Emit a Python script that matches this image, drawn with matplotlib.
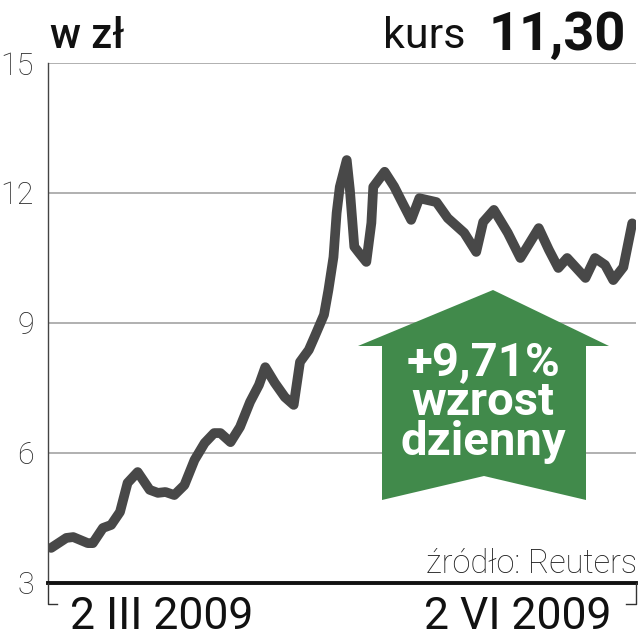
import matplotlib
matplotlib.use('Agg')
import matplotlib.pyplot as plt
from matplotlib.patches import Polygon
from matplotlib.lines import Line2D

# ---- data ----
days = [0, 2.4, 3.5, 5.8, 6.6, 8.2, 9.5, 10.9, 12.1, 13.7, 15.6, 16.9, 18.1, 19.5,
        21.1, 22.7, 24.3, 25.8, 26.8, 28.4, 29.9, 31.5, 32.9, 33.9, 35.4, 37.0,
        38.4, 39.4, 40.8, 41.7, 43.2, 43.9, 44.7, 45.2, 45.7, 46.8, 47.3, 48.0,
        48.8, 49.9, 50.7, 51.0, 52.8, 54.3, 55.8, 57.0, 58.3, 61.0, 62.8, 65.4,
        67.3, 68.4, 70.1, 72.3, 74.3, 77.2, 78.8, 80.3, 81.7, 84.6, 86.1, 87.7,
        89.0, 90.6, 92.0]
prices = [3.81, 4.04, 4.06, 3.92, 3.92, 4.27, 4.34, 4.64, 5.31, 5.56, 5.15, 5.08,
          5.10, 5.03, 5.26, 5.84, 6.23, 6.46, 6.46, 6.25, 6.60, 7.18, 7.57, 7.98,
          7.62, 7.29, 7.11, 8.10, 8.38, 8.68, 9.19, 9.76, 10.52, 11.54, 12.14,
          12.76, 12.07, 10.76, 10.61, 10.41, 11.31, 12.14, 12.49, 12.15, 11.72,
          11.38, 11.88, 11.79, 11.42, 11.08, 10.64, 11.33, 11.61, 11.08, 10.50,
          11.19, 10.69, 10.27, 10.50, 10.04, 10.50, 10.34, 9.99, 10.29, 11.30]
y_ticks = [3, 6, 9, 12, 15]
y_tick_labels = ["3", "6", "9", "12", "15"]
date_labels = ["2 III 2009", "2 VI 2009"]
unit_label = "w zł"
price_label = "kurs"
price_value = "11,30"
change_lines = ["+9,71%", "wzrost", "dzienny"]
source = "źródło: Reuters"

plt.rcParams['font.family'] = ['Roboto', 'Liberation Sans', 'DejaVu Sans']

W = H = 640
fig = plt.figure(figsize=(6.4, 6.4), dpi=100)
fig.patch.set_facecolor('white')

def fx(x):
    return x / W

def fy(y):
    return 1 - y / H

L, R, T, B = 48, 636, 63, 583
ax = fig.add_axes([fx(L), fy(B), (R - L) / W, (B - T) / H])
ax.set_xlim(-0.5, 92.6)
ax.set_ylim(3, 15)

ax.set_yticks(y_ticks)
ax.set_yticklabels(y_tick_labels)
ax.set_xticks([])
ax.tick_params(axis='y', length=0, pad=10, labelsize=22, colors='#2a2a2a')
for lab in ax.get_yticklabels():
    lab.set_fontweight('light')
ax.yaxis.grid(True, color='#a3a3a3', linewidth=1.2)
ax.set_axisbelow(True)

for s in ['top', 'right']:
    ax.spines[s].set_visible(False)
ax.spines['left'].set_color('#444444')
ax.spines['left'].set_linewidth(1.0)
ax.spines['bottom'].set_color('#111111')
ax.spines['bottom'].set_linewidth(2.8)
ax.spines['bottom'].set_zorder(5)

ax.plot(days, prices, color='#484848', linewidth=7,
        solid_joinstyle='round', solid_capstyle='round', zorder=3)

# ---- green arrow ----
arrow_px = [(493, 290), (609, 346), (586, 346), (586, 500), (484, 476),
            (382, 500), (382, 346), (358, 346)]
arrow = Polygon([(fx(x), fy(y)) for x, y in arrow_px], closed=True,
                transform=fig.transFigure, facecolor='#418a4b',
                edgecolor='none', zorder=4)
fig.patches.append(arrow)

fig.text(fx(483), fy(402), "\n".join(change_lines),
         ha='center', va='center', multialignment='center', linespacing=0.88,
         color='white', fontsize=34, fontweight='bold', zorder=6)

# ---- header texts ----
fig.text(fx(50), fy(48), unit_label, ha='left', va='baseline',
         fontsize=30, color='#111111', fontweight='medium')
fig.text(fx(466), fy(48), price_label, ha='right', va='baseline',
         fontsize=31, color='#111111')
fig.text(fx(626), fy(50), price_value, ha='right', va='baseline',
         fontsize=39, fontweight='bold', color='#111111')

# source
fig.text(fx(637), fy(573), source, ha='right', va='baseline',
         fontsize=23.5, color='#222222', fontweight='light')

# ---- date labels with brackets ----
fig.text(fx(70), fy(629), date_labels[0], ha='left', va='baseline',
         fontsize=32, color='#111111')
fig.text(fx(611), fy(629), date_labels[1], ha='right', va='baseline',
         fontsize=32, color='#111111')

bracket_kw = dict(transform=fig.transFigure, color='#333333', linewidth=1.0)
fig.lines.append(Line2D([fx(48), fx(48), fx(57)], [fy(583), fy(604), fy(604)], **bracket_kw))
fig.lines.append(Line2D([fx(636), fx(636), fx(626)], [fy(583), fy(604), fy(604)], **bracket_kw))

fig.savefig('out.png', dpi=100, facecolor='white')
